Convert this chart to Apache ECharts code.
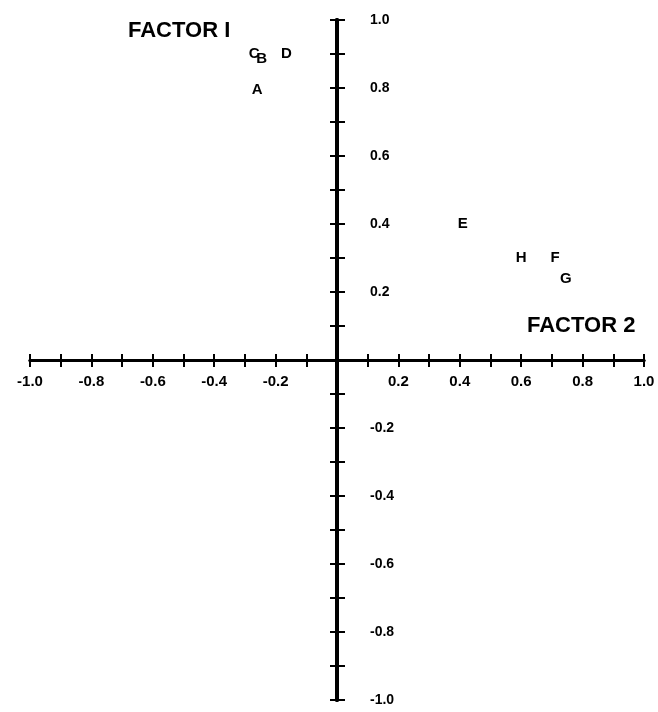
<!DOCTYPE html>
<html>
<head>
<meta charset="utf-8">
<script src="https://cdn.jsdelivr.net/npm/echarts@6/dist/echarts.min.js"></script>
<style>
  html, body { margin: 0; padding: 0; background: #fff; }
  #chart { width: 658px; height: 712px; }
</style>
</head>
<body>
<div id="chart"></div>
<script>
// point labels and their loadings (factor 2 on x, factor 1 on y)
var pointNames = ["A", "B", "C", "D", "E", "F", "G", "H"];
var factor2 = [-0.26, -0.245, -0.27, -0.165, 0.41, 0.71, 0.745, 0.60];
var factor1 = [0.795, 0.885, 0.90, 0.90, 0.40, 0.30, 0.24, 0.30];

var axisMin = -1.0;
var axisMax = 1.0;
var tickStep = 0.1;

var font = '"Liberation Sans", Arial, sans-serif';

// grid size, the axes are moved into the middle with offsets
var gridLeft = 30, gridRight = 14, gridTop = 20, gridBottom = 12;
var gridW = 658 - gridLeft - gridRight;
var gridH = 712 - gridTop - gridBottom;

// only every other tick gets a label, and none at the origin
function tickLabel(v) {
    var k = Math.round(v * 10);
    if (k === 0 || k % 2 !== 0) return '';
    return (k / 10).toFixed(1);
}

var points = [];
for (var i = 0; i < pointNames.length; i++) {
    points.push({ name: pointNames[i], value: [factor2[i], factor1[i]] });
}

var tickStyle = { color: '#000', width: 2 };
var xLabelStyle = { interval: 0, margin: 14, formatter: tickLabel, color: '#000',
                    fontFamily: font, fontSize: 15, fontWeight: 'bold' };
var yLabelStyle = { interval: 0, margin: 33, formatter: tickLabel, color: '#000',
                    fontFamily: font, fontSize: 14, fontWeight: 'bold' };

var myChart = echarts.init(document.getElementById('chart'));
var option = {
    backgroundColor: '#fff',
    animation: false,
    title: [
        { text: 'FACTOR I', left: 128, top: 20, padding: 0,
          textStyle: { fontFamily: font, fontSize: 22, fontWeight: 'bold', color: '#000' } },
        { text: 'FACTOR 2', left: 527, top: 315, padding: 0,
          textStyle: { fontFamily: font, fontSize: 22, fontWeight: 'bold', color: '#000' } }
    ],
    grid: { left: gridLeft, right: gridRight, top: gridTop, bottom: gridBottom },
    xAxis: [
        {
            type: 'value', min: axisMin, max: axisMax, interval: tickStep,
            position: 'bottom', offset: -gridH / 2,
            axisLine: { onZero: false, lineStyle: { color: '#000', width: 3 } },
            axisTick: { show: true, length: 7, lineStyle: tickStyle },
            axisLabel: xLabelStyle,
            splitLine: { show: false }
        },
        {
            type: 'value', min: axisMin, max: axisMax, interval: tickStep,
            position: 'top', offset: -gridH / 2,
            axisLine: { onZero: false, lineStyle: { color: '#000', width: 3 } },
            axisTick: { show: true, length: 6, lineStyle: tickStyle },
            axisLabel: { show: false },
            splitLine: { show: false }
        }
    ],
    yAxis: [
        {
            type: 'value', min: axisMin, max: axisMax, interval: tickStep,
            position: 'left', offset: -gridW / 2,
            axisLine: { onZero: false, lineStyle: { color: '#000', width: 4 } },
            axisTick: { show: true, length: 7, lineStyle: tickStyle },
            axisLabel: { show: false },
            splitLine: { show: false }
        },
        {
            type: 'value', min: axisMin, max: axisMax, interval: tickStep,
            position: 'right', offset: -gridW / 2,
            axisLine: { onZero: false, lineStyle: { color: '#000', width: 4 } },
            axisTick: { show: true, length: 8, lineStyle: tickStyle },
            axisLabel: yLabelStyle,
            splitLine: { show: false }
        }
    ],
    series: [{
        type: 'scatter',
        xAxisIndex: 0,
        yAxisIndex: 0,
        symbolSize: 0,
        itemStyle: { color: '#000', opacity: 1 },
        data: points,
        label: {
            show: true,
            position: 'inside',
            formatter: '{b}',
            color: '#000',
            textBorderWidth: 0,
            fontFamily: font,
            fontSize: 15,
            fontWeight: 'bold'
        }
    }]
};
myChart.setOption(option);
</script>
</body>
</html>
